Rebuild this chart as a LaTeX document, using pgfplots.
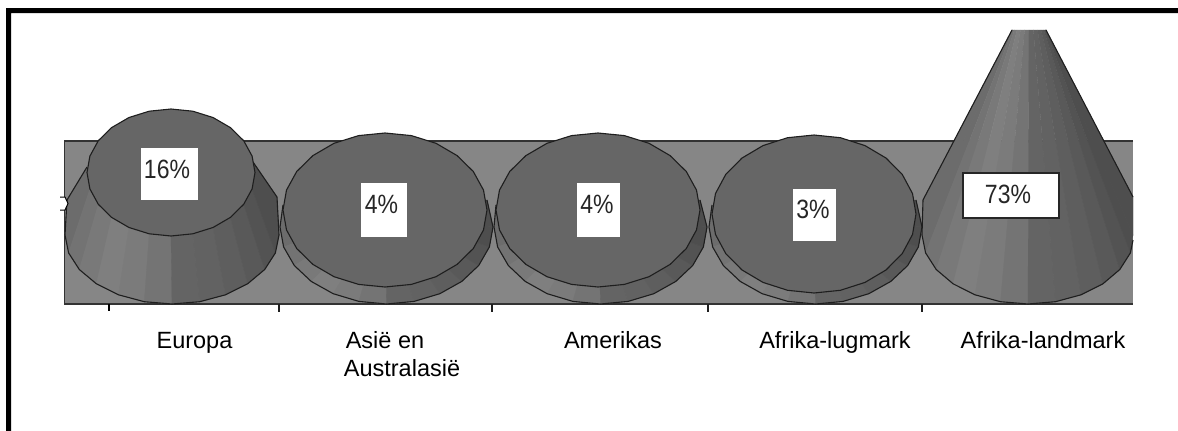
\documentclass[border=0pt]{standalone}
\usepackage{fontspec}
\setmainfont{Liberation Sans}
\usepackage{pgfplots}
\pgfplotsset{compat=1.18}

% facet greys, left to right round the front of a cone
\definecolor{c1}{HTML}{6C6C6C}
\definecolor{c2}{HTML}{737373}
\definecolor{c3}{HTML}{797979}
\definecolor{c4}{HTML}{7F7F7F}
\definecolor{c5}{HTML}{7B7B7B}
\definecolor{c6}{HTML}{747474}
\definecolor{c7}{HTML}{646464}
\definecolor{c8}{HTML}{626262}
\definecolor{c9}{HTML}{5E5E5E}
\definecolor{c10}{HTML}{595959}
\definecolor{c11}{HTML}{535353}
\definecolor{c12}{HTML}{4E4E4E}
\definecolor{panel}{HTML}{868686}
\definecolor{topc}{HTML}{666666}
\definecolor{edge}{HTML}{1E1E1E}

\pgfplotsset{
  fa/.style={fill=#1,draw=#1,line width=0.3pt},
  ol/.style={draw=edge,line width=1.1pt},
  tp/.style={fill=topc,draw=edge,line width=1.1pt},
  tk/.style={draw=edge,line width=1.1pt},
}
\newcommand{\pct}[1]{\scalebox{1}[1.15]{#1}}

\begin{document}
\begin{tikzpicture}
\begin{axis}[
    scale only axis,
    width=1178pt,
    height=431pt,
    xmin=0, xmax=1178,
    ymin=0, ymax=431,
    y dir=reverse,
    hide axis,
    clip=true,
  ]

  % page background keeps the full picture size
  \addplot[fill=white,draw=none] coordinates {(0,0)(1178,0)(1178,431)(0,431)} -- cycle;

  % frame of the figure
  \addplot[fill=black,draw=none] coordinates {(6,8)(1178,8)(1178,13)(11,13)(11,431)(6,431)} -- cycle;

  % back panel and its ticks
  \addplot[fill=panel,draw=none] coordinates {(64.5,141)(1133,141)(1133,304)(64.5,304)} -- cycle;
  \addplot[draw=black!80,line width=1.3pt] coordinates {(1133,141)(64.5,141)(64.5,304)(1133,304)};
  \addplot[draw=black,line width=2.2pt] coordinates {(109,304)(109,311)};
  \addplot[tk] coordinates {(279,304)(279,312)};
  \addplot[tk] coordinates {(492,304)(492,312)};
  \addplot[tk] coordinates {(708,304)(708,312)};
  \addplot[tk] coordinates {(922,304)(922,312)};

  % Europa
  \addplot[fa=c1] coordinates {(87,167)(67,200)(65,235)(89.9,188.9)} -- cycle;
  \addplot[fa=c12] coordinates {(253,162)(277,197)(279,235)(252.1,188.9)} -- cycle;
  \addplot[fa=c1] coordinates {(87,172.5)(89.9,188.9)(68.6,252.9)(65,235)} -- cycle;
  \addplot[fa=c2] coordinates {(89.9,188.9)(98.3,204.3)(79.3,269.5)(68.6,252.9)} -- cycle;
  \addplot[fa=c3] coordinates {(98.3,204.3)(111.6,217.4)(96.4,283.8)(79.3,269.5)} -- cycle;
  \addplot[fa=c4] coordinates {(111.6,217.4)(129,227.5)(118.5,294.8)(96.4,283.8)} -- cycle;
  \addplot[fa=c5] coordinates {(129,227.5)(149.2,233.8)(144.3,301.7)(118.5,294.8)} -- cycle;
  \addplot[fa=c6] coordinates {(149.2,233.8)(171,236)(172,304)(144.3,301.7)} -- cycle;
  \addplot[fa=c7] coordinates {(171,236)(192.8,233.8)(199.7,301.7)(172,304)} -- cycle;
  \addplot[fa=c8] coordinates {(192.8,233.8)(213,227.5)(225.5,294.8)(199.7,301.7)} -- cycle;
  \addplot[fa=c9] coordinates {(213,227.5)(230.4,217.4)(247.6,283.8)(225.5,294.8)} -- cycle;
  \addplot[fa=c10] coordinates {(230.4,217.4)(243.7,204.3)(264.7,269.5)(247.6,283.8)} -- cycle;
  \addplot[fa=c11] coordinates {(243.7,204.3)(252.1,188.9)(275.4,252.9)(264.7,269.5)} -- cycle;
  \addplot[fa=c12] coordinates {(252.1,188.9)(255,172.5)(279,235)(275.4,252.9)} -- cycle;
  \addplot[ol] coordinates {(87,167)(67,200)(65,235)(68.6,252.9)(79.3,269.5)(96.4,283.8)(118.5,294.8)(144.3,301.7)(172,304)(199.7,301.7)(225.5,294.8)(247.6,283.8)(264.7,269.5)(275.4,252.9)(279,235)(277,197)(253,162)};
  \addplot[tp] coordinates {(255,172.5)(252.1,188.9)(243.7,204.3)(230.4,217.4)(213,227.5)(192.8,233.8)(171,236)(149.2,233.8)(129,227.5)(111.6,217.4)(98.3,204.3)(89.9,188.9)(87,172.5)(89.9,156.1)(98.3,140.7)(111.6,127.6)(129,117.5)(149.2,111.2)(171,109)(192.8,111.2)(213,117.5)(230.4,127.6)(243.7,140.7)(252.1,156.1)} -- cycle;

  % Asie en Australasie
  \addplot[fa=c1] coordinates {(385,210)(283,205)(280,227)} -- cycle;
  \addplot[fa=c12] coordinates {(385,210)(487,200)(493,227)} -- cycle;
  \addplot[fa=c1] coordinates {(385,210)(280,227)(283.6,246.9)} -- cycle;
  \addplot[fa=c2] coordinates {(385,210)(283.6,246.9)(294.3,265.5)} -- cycle;
  \addplot[fa=c3] coordinates {(385,210)(294.3,265.5)(311.2,281.4)} -- cycle;
  \addplot[fa=c4] coordinates {(385,210)(311.2,281.4)(333.2,293.7)} -- cycle;
  \addplot[fa=c5] coordinates {(385,210)(333.2,293.7)(358.9,301.4)} -- cycle;
  \addplot[fa=c6] coordinates {(385,210)(358.9,301.4)(386.5,304)} -- cycle;
  \addplot[fa=c7] coordinates {(385,210)(386.5,304)(414.1,301.4)} -- cycle;
  \addplot[fa=c8] coordinates {(385,210)(414.1,301.4)(439.8,293.7)} -- cycle;
  \addplot[fa=c9] coordinates {(385,210)(439.8,293.7)(461.8,281.4)} -- cycle;
  \addplot[fa=c10] coordinates {(385,210)(461.8,281.4)(478.7,265.5)} -- cycle;
  \addplot[fa=c11] coordinates {(385,210)(478.7,265.5)(489.4,246.9)} -- cycle;
  \addplot[fa=c12] coordinates {(385,210)(489.4,246.9)(493,227)} -- cycle;
  \addplot[ol] coordinates {(283,205)(280,227)(283.6,246.9)(294.3,265.5)(311.2,281.4)(333.2,293.7)(358.9,301.4)(386.5,304)(414.1,301.4)(439.8,293.7)(461.8,281.4)(478.7,265.5)(489.4,246.9)(493,227)(487,200)};
  \addplot[tp] coordinates {(487,210)(483.5,229.9)(473.3,248.5)(457.1,264.4)(436,276.7)(411.4,284.4)(385,287)(358.6,284.4)(334,276.7)(312.9,264.4)(296.7,248.5)(286.5,229.9)(283,210)(286.5,190.1)(296.7,171.5)(312.9,155.6)(334,143.3)(358.6,135.6)(385,133)(411.4,135.6)(436,143.3)(457.1,155.6)(473.3,171.5)(483.5,190.1)} -- cycle;

  % Amerikas
  \addplot[fa=c1] coordinates {(598,210)(496,205)(494,227)} -- cycle;
  \addplot[fa=c12] coordinates {(598,210)(700,200)(707,227)} -- cycle;
  \addplot[fa=c1] coordinates {(598,210)(494,227)(497.6,246.9)} -- cycle;
  \addplot[fa=c2] coordinates {(598,210)(497.6,246.9)(508.3,265.5)} -- cycle;
  \addplot[fa=c3] coordinates {(598,210)(508.3,265.5)(525.2,281.4)} -- cycle;
  \addplot[fa=c4] coordinates {(598,210)(525.2,281.4)(547.2,293.7)} -- cycle;
  \addplot[fa=c5] coordinates {(598,210)(547.2,293.7)(572.9,301.4)} -- cycle;
  \addplot[fa=c6] coordinates {(598,210)(572.9,301.4)(600.5,304)} -- cycle;
  \addplot[fa=c7] coordinates {(598,210)(600.5,304)(628.1,301.4)} -- cycle;
  \addplot[fa=c8] coordinates {(598,210)(628.1,301.4)(653.8,293.7)} -- cycle;
  \addplot[fa=c9] coordinates {(598,210)(653.8,293.7)(675.8,281.4)} -- cycle;
  \addplot[fa=c10] coordinates {(598,210)(675.8,281.4)(692.7,265.5)} -- cycle;
  \addplot[fa=c11] coordinates {(598,210)(692.7,265.5)(703.4,246.9)} -- cycle;
  \addplot[fa=c12] coordinates {(598,210)(703.4,246.9)(707,227)} -- cycle;
  \addplot[ol] coordinates {(496,205)(494,227)(497.6,246.9)(508.3,265.5)(525.2,281.4)(547.2,293.7)(572.9,301.4)(600.5,304)(628.1,301.4)(653.8,293.7)(675.8,281.4)(692.7,265.5)(703.4,246.9)(707,227)(700,200)};
  \addplot[tp] coordinates {(700,210)(696.5,229.9)(686.3,248.5)(670.1,264.4)(649,276.7)(624.4,284.4)(598,287)(571.6,284.4)(547,276.7)(525.9,264.4)(509.7,248.5)(499.5,229.9)(496,210)(499.5,190.1)(509.7,171.5)(525.9,155.6)(547,143.3)(571.6,135.6)(598,133)(624.4,135.6)(649,143.3)(670.1,155.6)(686.3,171.5)(696.5,190.1)} -- cycle;

  % Afrika-lugmark
  \addplot[fa=c1] coordinates {(814,214)(712,205)(709,227)} -- cycle;
  \addplot[fa=c12] coordinates {(814,214)(916,200)(922,227)} -- cycle;
  \addplot[fa=c1] coordinates {(814,214)(709,227)(712.6,246.9)} -- cycle;
  \addplot[fa=c2] coordinates {(814,214)(712.6,246.9)(723.3,265.5)} -- cycle;
  \addplot[fa=c3] coordinates {(814,214)(723.3,265.5)(740.2,281.4)} -- cycle;
  \addplot[fa=c4] coordinates {(814,214)(740.2,281.4)(762.2,293.7)} -- cycle;
  \addplot[fa=c5] coordinates {(814,214)(762.2,293.7)(787.9,301.4)} -- cycle;
  \addplot[fa=c6] coordinates {(814,214)(787.9,301.4)(815.5,304)} -- cycle;
  \addplot[fa=c7] coordinates {(814,214)(815.5,304)(843.1,301.4)} -- cycle;
  \addplot[fa=c8] coordinates {(814,214)(843.1,301.4)(868.8,293.7)} -- cycle;
  \addplot[fa=c9] coordinates {(814,214)(868.8,293.7)(890.8,281.4)} -- cycle;
  \addplot[fa=c10] coordinates {(814,214)(890.8,281.4)(907.7,265.5)} -- cycle;
  \addplot[fa=c11] coordinates {(814,214)(907.7,265.5)(918.4,246.9)} -- cycle;
  \addplot[fa=c12] coordinates {(814,214)(918.4,246.9)(922,227)} -- cycle;
  \addplot[ol] coordinates {(712,205)(709,227)(712.6,246.9)(723.3,265.5)(740.2,281.4)(762.2,293.7)(787.9,301.4)(815.5,304)(843.1,301.4)(868.8,293.7)(890.8,281.4)(907.7,265.5)(918.4,246.9)(922,227)(916,200)};
  \addplot[tp] coordinates {(916,214)(912.5,234.5)(902.3,253.5)(886.1,269.9)(865,282.4)(840.4,290.3)(814,293)(787.6,290.3)(763,282.4)(741.9,269.9)(725.7,253.5)(715.5,234.5)(712,214)(715.5,193.5)(725.7,174.5)(741.9,158.1)(763,145.6)(787.6,137.7)(814,135)(840.4,137.7)(865,145.6)(886.1,158.1)(902.3,174.5)(912.5,193.5)} -- cycle;

  % Afrika-landmark, cut off at the top and on the right
  \addplot[fa=c1] coordinates {(1012,30)(923,200)(922,235)(1012.6,30)} -- cycle;
  \addplot[fa=c12] coordinates {(1046,30)(1133,197)(1133,235)(1045.4,30)} -- cycle;
  \addplot[fa=c1] coordinates {(1012,30)(1012.6,30)(925.6,252.9)(922,235)} -- cycle;
  \addplot[fa=c2] coordinates {(1012.6,30)(1014.3,30)(936.2,269.5)(925.6,252.9)} -- cycle;
  \addplot[fa=c3] coordinates {(1014.3,30)(1017,30)(953.1,283.8)(936.2,269.5)} -- cycle;
  \addplot[fa=c4] coordinates {(1017,30)(1020.5,30)(975,294.8)(953.1,283.8)} -- cycle;
  \addplot[fa=c5] coordinates {(1020.5,30)(1024.6,30)(1000.5,301.7)(975,294.8)} -- cycle;
  \addplot[fa=c6] coordinates {(1024.6,30)(1029,30)(1028,304)(1000.5,301.7)} -- cycle;
  \addplot[fa=c7] coordinates {(1029,30)(1033.4,30)(1055.5,301.7)(1028,304)} -- cycle;
  \addplot[fa=c8] coordinates {(1033.4,30)(1037.5,30)(1081,294.8)(1055.5,301.7)} -- cycle;
  \addplot[fa=c9] coordinates {(1037.5,30)(1041,30)(1102.9,283.8)(1081,294.8)} -- cycle;
  \addplot[fa=c10] coordinates {(1041,30)(1043.7,30)(1119.8,269.5)(1102.9,283.8)} -- cycle;
  \addplot[fa=c11] coordinates {(1043.7,30)(1045.4,30)(1130.4,252.9)(1119.8,269.5)} -- cycle;
  \addplot[fa=c12] coordinates {(1045.4,30)(1046,30)(1133,235)(1130.4,252.9)} -- cycle;
  \addplot[ol] coordinates {(1012,30)(923,200)(922,235)(925.6,252.9)(936.2,269.5)(953.1,283.8)(975,294.8)(1000.5,301.7)(1028,304)(1055.5,301.7)(1081,294.8)(1102.9,283.8)(1119.8,269.5)(1130.4,252.9)(1133,240)};
  \addplot[ol] coordinates {(1046,30)(1133,197)};

  % notch on the left of the panel
  \addplot[fill=white,draw=black,line width=1pt] coordinates {(60,197)(65,197)(68,203.5)(65,210)(60,210)};

  % white label boxes
  \addplot[fill=white,draw=none] coordinates {(141,148)(198,148)(198,200)(141,200)} -- cycle;
  \addplot[fill=white,draw=none] coordinates {(361,183)(407,183)(407,237)(361,237)} -- cycle;
  \addplot[fill=white,draw=none] coordinates {(577,183)(620,183)(620,237)(577,237)} -- cycle;
  \addplot[fill=white,draw=none] coordinates {(793,189)(836,189)(836,241)(793,241)} -- cycle;
  \addplot[fill=white,draw=black!85,line width=1.2pt] coordinates {(963,173)(1059,173)(1059,218)(963,218)} -- cycle;

  \begin{scope}[every node/.style={inner sep=0pt,text=black!85,font=\fontsize{23}{27}\selectfont}]
    \node at (axis cs:167,169.5) {\pct{16\%}};
    \node at (axis cs:381.5,204) {\pct{4\%}};
    \node at (axis cs:597,204) {\pct{4\%}};
    \node at (axis cs:813,209) {\pct{3\%}};
    \node at (axis cs:1008,194) {\pct{73\%}};
  \end{scope}

  \begin{scope}[every node/.style={inner sep=0pt,anchor=base,text=black,font=\fontsize{23.5}{27}\selectfont}]
    \node at (axis cs:194.5,348) {Europa};
    \node at (axis cs:385,348) {Asië en};
    \node at (axis cs:402,376) {Australasië};
    \node at (axis cs:613,348) {Amerikas};
    \node at (axis cs:835,348) {Afrika-lugmark};
    \node at (axis cs:1043,348) {Afrika-landmark};
  \end{scope}
\end{axis}
\end{tikzpicture}
\end{document}
